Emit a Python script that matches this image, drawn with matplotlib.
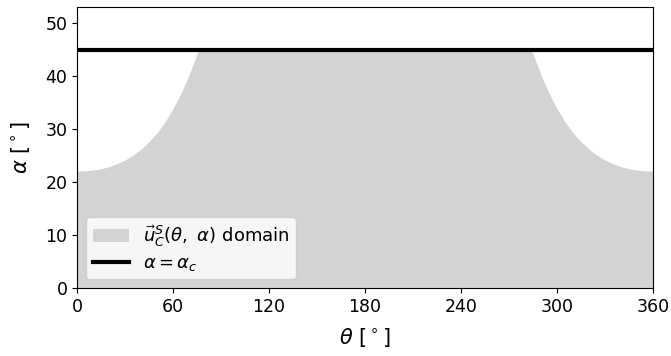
import matplotlib
matplotlib.use("Agg")
import matplotlib.pyplot as plt

# boundary of the domain (degrees)
theta = [0, 5, 10, 15, 20, 25, 30, 35, 40, 45, 50, 55, 60, 65, 70, 75, 76.3,
         283.7, 285, 290, 295, 300, 305, 310, 315, 320, 325, 330, 335, 340,
         345, 350, 355, 360]
alpha_bound = [22.1, 22.15, 22.3, 22.55, 22.95, 23.5, 24.2, 25.1, 26.25, 27.65,
               29.35, 31.4, 33.9, 36.8, 40.25, 44.2, 45.0,
               45.0, 44.2, 40.25, 36.8, 33.9, 31.4, 29.35, 27.65, 26.25, 25.1,
               24.2, 23.5, 22.95, 22.55, 22.3, 22.15, 22.1]
alpha_c = 45
xticks = [0, 60, 120, 180, 240, 300, 360]
yticks = [0, 10, 20, 30, 40, 50]

fig, ax = plt.subplots(figsize=(6.71, 3.56), dpi=100)
fig.subplots_adjust(left=0.115, right=0.973, bottom=0.19, top=0.98)

ax.fill_between(theta, 0, alpha_bound, color='lightgray', lw=0,
                label=r'$\vec{u}_C^S(\theta,\ \alpha)$ domain')
ax.axhline(alpha_c, color='black', lw=3, label=r'$\alpha = \alpha_c$')

ax.set_xlim(0, 360)
ax.set_ylim(0, 53)
ax.set_xticks(xticks)
ax.set_yticks(yticks)
ax.tick_params(labelsize=12.5)
ax.set_xlabel(r'$\theta$ [$^\circ$]', fontsize=15, labelpad=7)
ax.set_ylabel(r'$\alpha$ [$^\circ$]', fontsize=15, labelpad=10)
ax.legend(loc='lower left', fontsize=13, labelspacing=0.3, borderpad=0.35)

fig.savefig('out.png', dpi=100)
